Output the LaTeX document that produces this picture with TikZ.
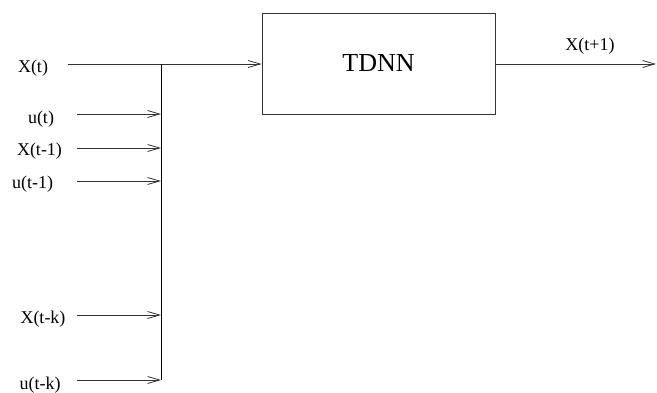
\documentclass[tikz,border=0pt]{standalone}
\usepackage{fontspec}
\setmainfont{Liberation Serif}
\usetikzlibrary{arrows.meta, positioning}
\tikzstyle{signal}=[draw=black!80, line width=0.8pt, -{Straight Barb[length=12pt,width=7pt]}]
\tikzstyle{busLine}=[draw=black, line width=0.8pt]
\tikzstyle{sigLabel}=[font=\fontsize{18}{20}\selectfont, inner sep=0pt, anchor=base]
\tikzstyle{netBox}=[draw=black!80, line width=0.8pt, minimum width=233pt,
  minimum height=101pt, font=\fontsize{26}{30}\selectfont]

\begin{document}
\begin{tikzpicture}[x=1pt, y=-1pt]
  \useasboundingbox (0,0) rectangle (657,392);

  \node[netBox] (tdnn) at (378.5,63.5) {TDNN};

  % main input and output
  \node[sigLabel] (lblXt) at (33,72.5) {X(t)};
  \coordinate (srcXt) at (68,64);
  \coordinate (busTop) at (161,64);
  \coordinate (out) at (656,64);
  \node[sigLabel] (lblOut) at (590,50) {X(t+1)};

  \draw[signal] (srcXt) -- (tdnn.west |- srcXt);
  \draw[signal] (tdnn.east |- out) -- (out);

  % delayed inputs feeding the bus
  \foreach \n/\lx/\ly/\y/\txt in {ut/41/123/114/u(t), xtm/39.5/155/148/X(t-1),
    utm/32.5/188/181/u(t-1), xtk/43/323/315/X(t-k), utk/40/389/380/u(t-k)}
  {
    \node[sigLabel] (lbl\n) at (\lx,\ly) {\txt};
    \coordinate (src\n) at (77,\y);
    \coordinate (bus\n) at (161,\y);
    \draw[signal] (src\n) -- (bus\n);
  }

  \draw[busLine] (busTop) -- (busutk);
\end{tikzpicture}
\end{document}
